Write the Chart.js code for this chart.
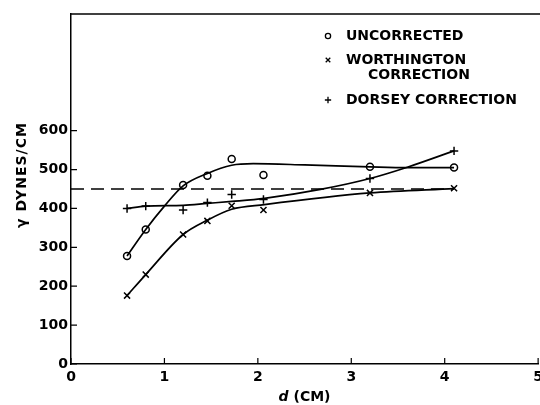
<!DOCTYPE html>
<html>
<head>
<meta charset="utf-8">
<script src="https://cdn.jsdelivr.net/npm/chart.js@4/dist/chart.umd.min.js"></script>
<style>
  html, body { margin: 0; padding: 0; background: #fff; overflow: hidden; }
  #wrap { position: relative; width: 548px; height: 405px; }
</style>
</head>
<body>
<div id="wrap"><canvas id="grafico"></canvas></div>
<script>
// pontos medidos: diametro d (cm) e tensao gama (dynes/cm)
const diametros = [0.6, 0.8, 1.2, 1.46, 1.72, 2.06, 3.2, 4.1];
const naoCorrigido = [278, 346, 460, 484, 527, 486, 507, 505];
const worthington = [176, 230, 333, 368, 407, 396, 440, 452];
const dorsey = [400, 406, 396, 415, 436, 423, 477, 548];

// curvas desenhadas a mao
const curvaNaoCorrX = [0.6, 0.8, 1.0, 1.2, 1.46, 1.72, 1.95, 2.5, 3.2, 3.6, 4.1];
const curvaNaoCorrY = [278, 346, 406, 458, 490, 511, 515, 512, 507, 505, 505];
const curvaWorthX = [0.6, 0.8, 1.2, 1.46, 1.72, 2.07, 3.2, 4.1];
const curvaWorthY = [176, 230, 333, 370, 398, 410, 440, 451];
const curvaDorseyX = [0.6, 0.8, 1.2, 1.46, 1.72, 2.07, 2.67, 3.2, 3.6, 4.1];
const curvaDorseyY = [400, 406, 408, 413, 418, 426, 449, 477, 506, 548];

// linha tracejada de referencia
const referenciaX = [0, 4.1];
const referenciaY = [450, 450];

const ticksX = [0, 1, 2, 3, 4, 5];
const ticksY = [0, 100, 200, 300, 400, 500, 600];
const nomesSeries = [['UNCORRECTED'], ['WORTHINGTON', 'CORRECTION'], ['DORSEY CORRECTION']];

const FONTE = '"DejaVu Sans", sans-serif';

function pares(xs, ys) {
    return xs.map((x, i) => ({ x: x, y: ys[i] }));
}

function curva(xs, ys) {
    return {
        data: pares(xs, ys),
        showLine: true,
        borderColor: '#000',
        borderWidth: 1.7,
        pointRadius: 0,
        cubicInterpolationMode: 'monotone'
    };
}

function pontos(ys, estilo, raio, nome) {
    return {
        label: nome,
        data: pares(diametros, ys),
        showLine: false,
        pointStyle: estilo,
        pointRadius: raio,
        pointBorderWidth: 1.5,
        pointBorderColor: '#000',
        pointBackgroundColor: '#fff',
        legenda: true
    };
}

// moldura, marcas internas dos eixos, titulos e legenda
const extras = {
    id: 'extras',
    afterDraw(chart) {
        const ctx = chart.ctx;
        const area = chart.chartArea;
        const sx = chart.scales.x, sy = chart.scales.y;
        ctx.save();
        ctx.strokeStyle = '#000';
        ctx.fillStyle = '#000';
        ctx.lineWidth = 1.5;

        ctx.beginPath();
        ctx.moveTo(area.left, area.top);
        ctx.lineTo(area.right + 6, area.top);
        ctx.stroke();

        ctx.lineWidth = 1.2;
        ctx.beginPath();
        ticksX.forEach(v => {
            const px = sx.getPixelForValue(v);
            ctx.moveTo(px, area.bottom);
            ctx.lineTo(px, area.bottom - 6);
        });
        ticksY.forEach(v => {
            const py = sy.getPixelForValue(v);
            ctx.moveTo(area.left, py);
            ctx.lineTo(area.left + 6, py);
        });
        ctx.stroke();

        // titulo do eixo y
        ctx.save();
        ctx.translate(22, 175);
        ctx.rotate(-Math.PI / 2);
        ctx.font = 'bold 14px ' + FONTE;
        ctx.letterSpacing = '1px';
        ctx.textAlign = 'center';
        ctx.textBaseline = 'middle';
        ctx.fillText('\u03b3 DYNES/CM', 0, 0);
        ctx.restore();

        // titulo do eixo x
        ctx.font = 'italic bold 14px ' + FONTE;
        const wd = ctx.measureText('d').width;
        ctx.font = 'bold 14px ' + FONTE;
        const wr = ctx.measureText(' (CM)').width;
        const x0 = (area.left + area.right) / 2 - (wd + wr) / 2;
        ctx.textBaseline = 'middle';
        ctx.textAlign = 'left';
        ctx.font = 'italic bold 14px ' + FONTE;
        ctx.fillText('d', x0, 397);
        ctx.font = 'bold 14px ' + FONTE;
        ctx.fillText(' (CM)', x0 + wd, 397);

        // legenda
        const linhasY = [[36], [60, 75.5], [100]];
        const marcaX = 328, textoX = 346, recuo = 22;
        let k = 0;
        chart.data.datasets.forEach(ds => {
            if (!ds.legenda) return;
            const ly = linhasY[k];
            ctx.lineWidth = 1.3;
            ctx.strokeStyle = '#000';
            ctx.fillStyle = '#fff';
            Chart.helpers.drawPoint(ctx, { pointStyle: ds.pointStyle, radius: ds.pointRadius * 0.75, borderWidth: 1.3, rotation: 0 }, marcaX, ly[0]);
            ctx.fillStyle = '#000';
            ctx.font = 'bold 14px ' + FONTE;
            ctx.textAlign = 'left';
            ctx.textBaseline = 'middle';
            nomesSeries[k].forEach((t, i) => ctx.fillText(t, textoX + (i > 0 ? recuo : 0), ly[i]));
            k++;
        });
        ctx.restore();
    }
};

new Chart(document.getElementById('grafico'), {
    type: 'scatter',
    data: {
        datasets: [
            curva(curvaNaoCorrX, curvaNaoCorrY),
            curva(curvaWorthX, curvaWorthY),
            curva(curvaDorseyX, curvaDorseyY),
            {
                data: pares(referenciaX, referenciaY),
                showLine: true,
                borderColor: '#000',
                borderWidth: 1.5,
                borderDash: [13, 7],
                pointRadius: 0
            },
            pontos(naoCorrigido, 'circle', 3.5, 'UNCORRECTED'),
            pontos(worthington, 'crossRot', 4.3, 'WORTHINGTON CORRECTION'),
            pontos(dorsey, 'cross', 4.2, 'DORSEY CORRECTION')
        ]
    },
    options: {
        responsive: true,
        maintainAspectRatio: false,
        animation: false,
        layout: { padding: { top: 14, right: 5, left: 0, bottom: 0 } },
        plugins: { legend: { display: false }, tooltip: { enabled: false } },
        scales: {
            x: {
                type: 'linear',
                min: 0,
                max: 5,
                afterBuildTicks: s => { s.ticks = ticksX.map(v => ({ value: v })); },
                afterFit: s => { s.height = 41; },
                grid: { display: false, drawTicks: false },
                border: { color: '#000', width: 1.5 },
                ticks: { color: '#000', font: { family: FONTE, size: 14, weight: 'bold' }, padding: 5, maxRotation: 0, autoSkip: false }
            },
            y: {
                type: 'linear',
                min: 0,
                max: 900,
                afterBuildTicks: s => { s.ticks = ticksY.map(v => ({ value: v })); },
                afterFit: s => { s.width = 71; },
                grid: { display: false, drawTicks: false },
                border: { color: '#000', width: 1.5 },
                ticks: { color: '#000', font: { family: FONTE, size: 14, weight: 'bold' }, padding: 3, autoSkip: false }
            }
        }
    },
    plugins: [extras]
});
</script>
</body>
</html>
